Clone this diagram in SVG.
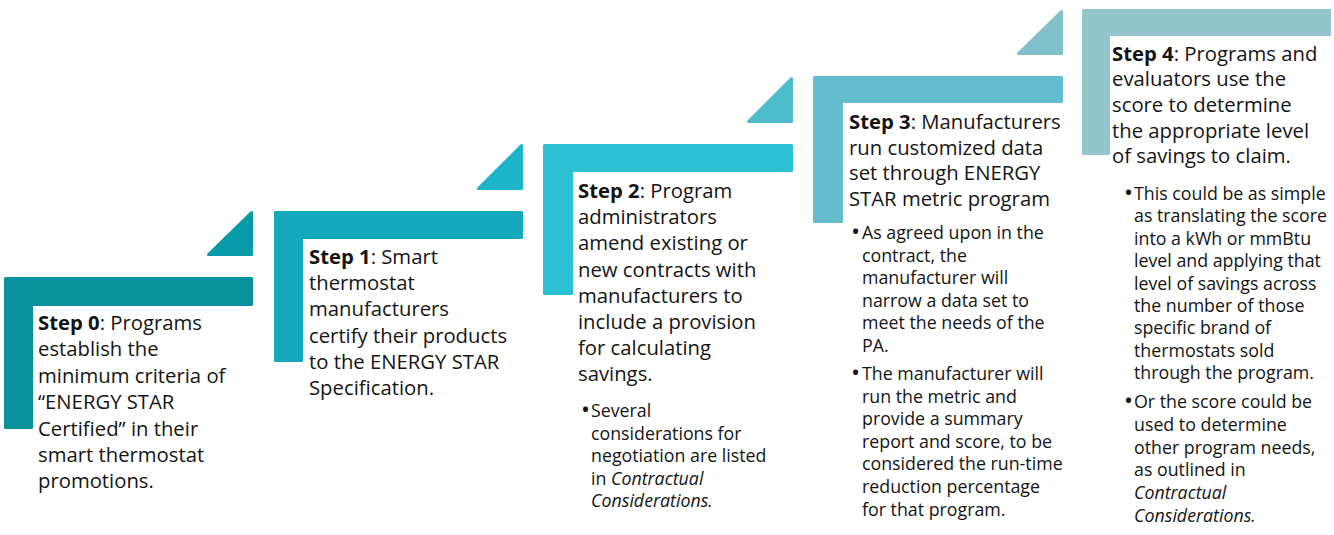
<svg xmlns="http://www.w3.org/2000/svg" width="1334" height="535" viewBox="0 0 1334 535">
  <style>
    .shape { stroke-linejoin: round; stroke-width: 3; }
    .main { font-family: "Open Sans", "Liberation Sans", sans-serif; font-size: 20.3px; fill: #141414; }
    .sub { font-family: "Open Sans", "Liberation Sans", sans-serif; font-size: 17.8px; fill: #141414; }
    .dot { font-size: 24px; }
    .b { font-weight: bold; }
    .i { font-style: italic; }
  </style>

  <!-- Step 0 -->
  <g id="step0">
    <path class="shape" d="M5.5,278.5 H251.5 V304.5 H31.5 V427.5 H5.5 Z" fill="#08919b" stroke="#08919b"/>
    <path class="shape" d="M251.5,212.5 V254.5 H208.5 Z" fill="#0a9ba8" stroke="#0a9ba8"/>
    <text class="main">
      <tspan x="38" y="330"><tspan class="b">Step 0</tspan>: Programs</tspan>
      <tspan x="38" y="356.4">establish the</tspan>
      <tspan x="38" y="382.8">minimum criteria of</tspan>
      <tspan x="38" y="409.2">“ENERGY STAR</tspan>
      <tspan x="38" y="435.6">Certified” in their</tspan>
      <tspan x="38" y="462">smart thermostat</tspan>
      <tspan x="38" y="488.4">promotions.</tspan>
    </text>
  </g>

  <!-- Step 1 -->
  <g id="step1">
    <path class="shape" d="M275.5,212.5 H521.5 V237.5 H301.5 V360.5 H275.5 Z" fill="#13a8bb" stroke="#13a8bb"/>
    <path class="shape" d="M521.5,145.5 V188.5 H478.5 Z" fill="#1db5c9" stroke="#1db5c9"/>
    <text class="main">
      <tspan x="309" y="264"><tspan class="b">Step 1</tspan>: Smart</tspan>
      <tspan x="309" y="290.2">thermostat</tspan>
      <tspan x="309" y="316.4">manufacturers</tspan>
      <tspan x="309" y="342.6">certify their products</tspan>
      <tspan x="309" y="368.8">to the ENERGY STAR</tspan>
      <tspan x="309" y="395">Specification.</tspan>
    </text>
  </g>

  <!-- Step 2 -->
  <g id="step2">
    <path class="shape" d="M544.5,145.5 H791.5 V170.5 H571.5 V293.5 H544.5 Z" fill="#2bc0d4" stroke="#2bc0d4"/>
    <path class="shape" d="M791.5,78.5 V121.5 H748.5 Z" fill="#4ebdcd" stroke="#4ebdcd"/>
    <text class="main">
      <tspan x="578" y="198"><tspan class="b">Step 2</tspan>: Program</tspan>
      <tspan x="578" y="224.2">administrators</tspan>
      <tspan x="578" y="250.4">amend existing or</tspan>
      <tspan x="578" y="276.6">new contracts with</tspan>
      <tspan x="578" y="302.8">manufacturers to</tspan>
      <tspan x="578" y="329">include a provision</tspan>
      <tspan x="578" y="355.2">for calculating</tspan>
      <tspan x="578" y="381.4">savings.</tspan>
    </text>
    <text class="sub">
      <tspan x="581" y="418" class="dot">•</tspan>
      <tspan x="591" y="417">Several</tspan>
      <tspan x="591" y="439.5">considerations for</tspan>
      <tspan x="591" y="462">negotiation are listed</tspan>
      <tspan x="591" y="484.5">in <tspan class="i">Contractual</tspan></tspan>
      <tspan x="591" y="507" class="i">Considerations.</tspan>
    </text>
  </g>

  <!-- Step 3 -->
  <g id="step3">
    <path class="shape" d="M814.5,77.5 H1061.5 V101.5 H841.5 V221.5 H814.5 Z" fill="#63bdcc" stroke="#63bdcc"/>
    <path class="shape" d="M1061.5,11.5 V53.5 H1018.5 Z" fill="#7fc0ca" stroke="#7fc0ca"/>
    <text class="main">
      <tspan x="849" y="129"><tspan class="b">Step 3</tspan>: Manufacturers</tspan>
      <tspan x="849" y="154.7">run customized data</tspan>
      <tspan x="849" y="180.4">set through ENERGY</tspan>
      <tspan x="849" y="206.1">STAR metric program</tspan>
    </text>
    <text class="sub">
      <tspan x="851" y="240" class="dot">•</tspan>
      <tspan x="862" y="239">As agreed upon in the</tspan>
      <tspan x="862" y="261.5">contract, the</tspan>
      <tspan x="862" y="284">manufacturer will</tspan>
      <tspan x="862" y="306.5">narrow a data set to</tspan>
      <tspan x="862" y="329">meet the needs of the</tspan>
      <tspan x="862" y="351.5">PA.</tspan>
      <tspan x="851" y="381" class="dot">•</tspan>
      <tspan x="862" y="380">The manufacturer will</tspan>
      <tspan x="862" y="402.6">run the metric and</tspan>
      <tspan x="862" y="425.2">provide a summary</tspan>
      <tspan x="862" y="447.8">report and score, to be</tspan>
      <tspan x="862" y="470.4">considered the run-time</tspan>
      <tspan x="862" y="493">reduction percentage</tspan>
      <tspan x="862" y="515.6">for that program.</tspan>
    </text>
  </g>

  <!-- Step 4 -->
  <g id="step4">
    <path class="shape" d="M1083.5,10.5 H1329.5 V34.5 H1108.5 V153.5 H1083.5 Z" fill="#94c5cc" stroke="#94c5cc"/>
    <text class="main">
      <tspan x="1112" y="60.5"><tspan class="b">Step 4</tspan>: Programs and</tspan>
      <tspan x="1112" y="86.2">evaluators use the</tspan>
      <tspan x="1112" y="111.9">score to determine</tspan>
      <tspan x="1112" y="137.6">the appropriate level</tspan>
      <tspan x="1112" y="163.3">of savings to claim.</tspan>
    </text>
    <text class="sub">
      <tspan x="1124" y="201" class="dot">•</tspan>
      <tspan x="1134" y="200">This could be as simple</tspan>
      <tspan x="1134" y="222.4">as translating the score</tspan>
      <tspan x="1134" y="244.8">into a kWh or mmBtu</tspan>
      <tspan x="1134" y="267.2">level and applying that</tspan>
      <tspan x="1134" y="289.6">level of savings across</tspan>
      <tspan x="1134" y="312">the number of those</tspan>
      <tspan x="1134" y="334.4">specific brand of</tspan>
      <tspan x="1134" y="356.8">thermostats sold</tspan>
      <tspan x="1134" y="379.2">through the program.</tspan>
      <tspan x="1124" y="409" class="dot">•</tspan>
      <tspan x="1134" y="408">Or the score could be</tspan>
      <tspan x="1134" y="430.8">used to determine</tspan>
      <tspan x="1134" y="453.6">other program needs,</tspan>
      <tspan x="1134" y="476.4">as outlined in</tspan>
      <tspan x="1134" y="499.2" class="i">Contractual</tspan>
      <tspan x="1134" y="522" class="i">Considerations.</tspan>
    </text>
  </g>

  <!-- the steps are read in order; no separate connectors are drawn -->
  <g id="connectors"/>
</svg>
